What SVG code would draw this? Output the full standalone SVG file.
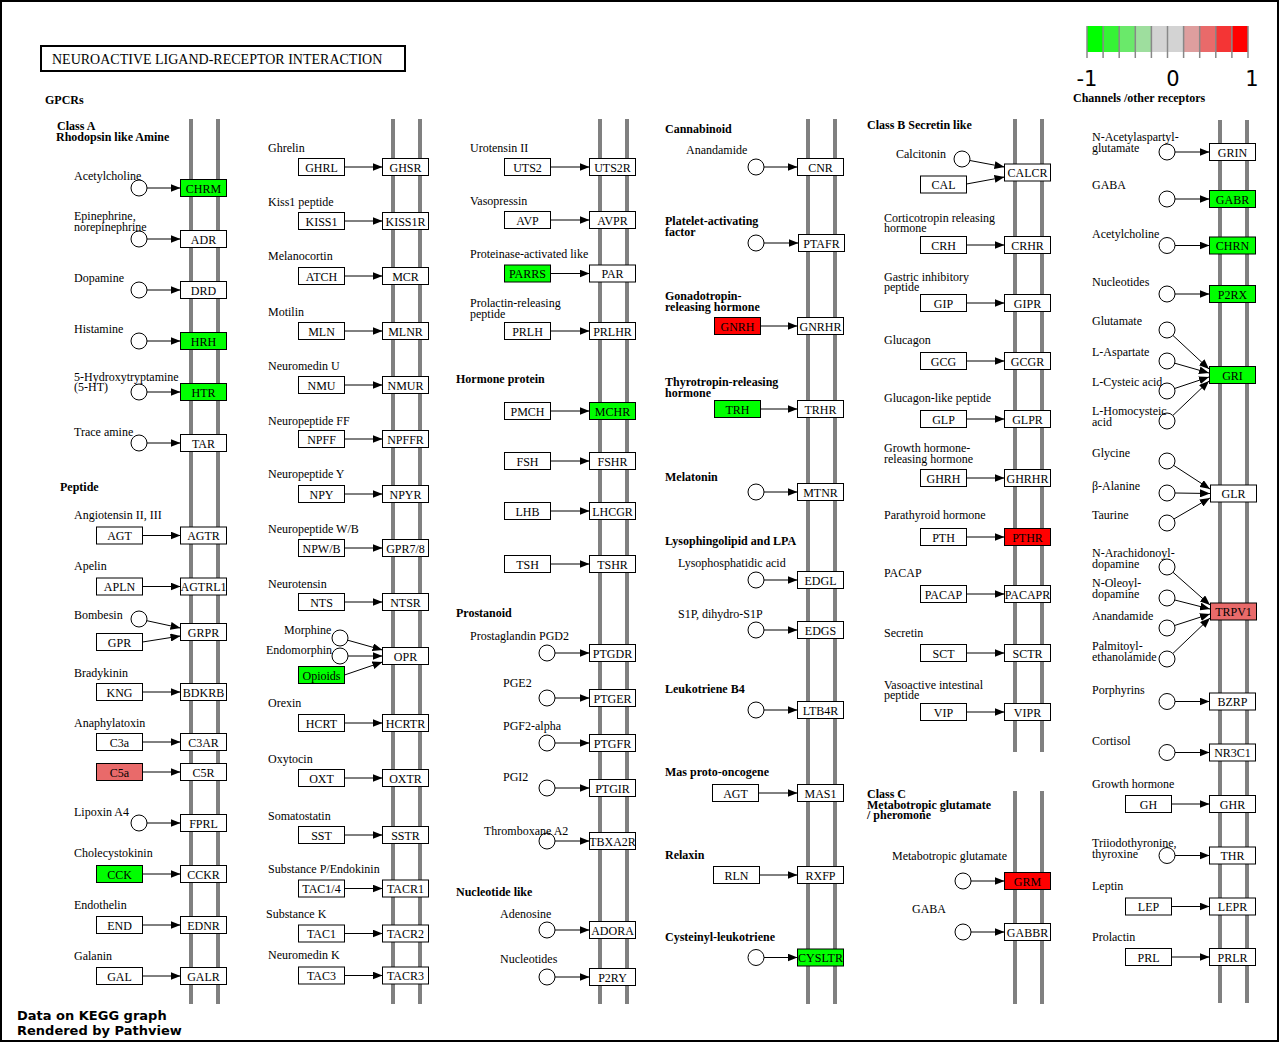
<svg xmlns="http://www.w3.org/2000/svg" width="1280" height="1043" viewBox="0 0 1280 1043">
<style>
.m{stroke:#808080;stroke-width:4}
.b{fill:#fff;stroke:#000;stroke-width:1}
.gr{fill:#00ff00}
.rd{fill:#ff0000}
.sa{fill:#e96a6a}
.c{fill:#fff;stroke:#000;stroke-width:1}
text{font-family:"Liberation Serif","Times New Roman",serif;font-size:12px;fill:#000}
.t{text-anchor:middle}
.h{font-weight:bold}
.e line{stroke:#000;stroke-width:1;fill:none;marker-end:url(#a)}
.f{font-family:"DejaVu Sans",sans-serif;font-weight:bold;font-size:13px}
.k{font-family:"DejaVu Sans",sans-serif;font-size:21px}
</style>
<defs>
<marker id="a" viewBox="0 0 10 8" markerWidth="10" markerHeight="8" refX="10" refY="4" orient="auto" markerUnits="userSpaceOnUse"><path d="M0,0 L10,4 L0,8 z" fill="#000"/></marker>
</defs>
<rect x="0" y="0" width="1280" height="1043" fill="#fff"/>
<rect x="1" y="1" width="1277" height="1040" fill="none" stroke="#000" stroke-width="2"/>
<g id="title"><rect x="41" y="46" width="364" height="25" fill="#fff" stroke="#000" stroke-width="2"/><text x="52" y="64" style="font-size:14px">NEUROACTIVE LIGAND-RECEPTOR INTERACTION</text></g>
<g id="legend">
<rect x="1087" y="26" width="16.1" height="26" fill="#00ff00"/>
<rect x="1103.1" y="26" width="16.1" height="26" fill="#35f435"/>
<rect x="1119.2" y="26" width="16.1" height="26" fill="#6ae96a"/>
<rect x="1135.3" y="26" width="16.1" height="26" fill="#9ede9e"/>
<rect x="1151.4" y="26" width="16.1" height="26" fill="#d3d3d3"/>
<rect x="1167.5" y="26" width="16.1" height="26" fill="#d3d3d3"/>
<rect x="1183.6" y="26" width="16.1" height="26" fill="#de9e9e"/>
<rect x="1199.7" y="26" width="16.1" height="26" fill="#e96a6a"/>
<rect x="1215.8" y="26" width="16.1" height="26" fill="#f43535"/>
<rect x="1231.9" y="26" width="16.1" height="26" fill="#ff0000"/>
<g stroke="#888" stroke-width="1.5">
<line x1="1087" y1="26" x2="1087" y2="58"/><line x1="1103.1" y1="26" x2="1103.1" y2="58"/><line x1="1119.2" y1="26" x2="1119.2" y2="58"/><line x1="1135.3" y1="26" x2="1135.3" y2="58"/><line x1="1151.4" y1="26" x2="1151.4" y2="58"/><line x1="1167.5" y1="26" x2="1167.5" y2="58"/><line x1="1183.6" y1="26" x2="1183.6" y2="58"/><line x1="1199.7" y1="26" x2="1199.7" y2="58"/><line x1="1215.8" y1="26" x2="1215.8" y2="58"/><line x1="1231.9" y1="26" x2="1231.9" y2="58"/><line x1="1248" y1="26" x2="1248" y2="58"/>
</g>
<text class="k t" x="1087" y="86">-1</text><text class="k t" x="1173" y="86">0</text><text class="k t" x="1252" y="86">1</text>
</g>
<g id="membranes">
<line class="m" x1="191" y1="119" x2="191" y2="1004"/><line class="m" x1="218" y1="119" x2="218" y2="1004"/>
<line class="m" x1="393" y1="119" x2="393" y2="1004"/><line class="m" x1="420" y1="119" x2="420" y2="1004"/>
<line class="m" x1="600" y1="119" x2="600" y2="1004"/><line class="m" x1="627" y1="119" x2="627" y2="1004"/>
<line class="m" x1="808" y1="119" x2="808" y2="1004"/><line class="m" x1="835" y1="119" x2="835" y2="1004"/>
<line class="m" x1="1015" y1="119" x2="1015" y2="752"/><line class="m" x1="1042" y1="119" x2="1042" y2="752"/>
<line class="m" x1="1015" y1="791" x2="1015" y2="1004"/><line class="m" x1="1042" y1="791" x2="1042" y2="1004"/>
<line class="m" x1="1220" y1="120" x2="1220" y2="1003"/><line class="m" x1="1247" y1="120" x2="1247" y2="1003"/>
</g>
<g id="headings">
<text class="h" x="45" y="104">GPCRs</text>
<text class="h" x="57" y="130">Class A<tspan x="56" dy="11">Rhodopsin like Amine</tspan></text>
<text class="h" x="60" y="491">Peptide</text>
<text class="h" x="456" y="383">Hormone protein</text>
<text class="h" x="456" y="617">Prostanoid</text>
<text class="h" x="456" y="896">Nucleotide like</text>
<text class="h" x="665" y="133">Cannabinoid</text>
<text class="h" x="665" y="225">Platelet-activating<tspan x="665" dy="11">factor</tspan></text>
<text class="h" x="665" y="300">Gonadotropin-<tspan x="665" dy="11">releasing hormone</tspan></text>
<text class="h" x="665" y="386">Thyrotropin-releasing<tspan x="665" dy="11">hormone</tspan></text>
<text class="h" x="665" y="481">Melatonin</text>
<text class="h" x="665" y="545">Lysophingolipid and LPA</text>
<text class="h" x="665" y="693">Leukotriene B4</text>
<text class="h" x="665" y="776">Mas proto-oncogene</text>
<text class="h" x="665" y="859">Relaxin</text>
<text class="h" x="665" y="941">Cysteinyl-leukotriene</text>
<text class="h" x="867" y="129">Class B Secretin like</text>
<text class="h" x="867" y="798">Class C<tspan x="867" dy="11">Metabotropic glutamate</tspan><tspan x="867" dy="10">/ pheromone</tspan></text>
<text class="h" x="1073" y="102">Channels /other receptors</text>
</g>
<g id="connectors" class="e">
<line x1="147" y1="188" x2="180.5" y2="188"/><line x1="147" y1="239" x2="180.5" y2="239"/><line x1="147" y1="290" x2="180.5" y2="290"/><line x1="147" y1="341" x2="180.5" y2="341"/><line x1="147" y1="392" x2="180.5" y2="392"/><line x1="147" y1="443" x2="180.5" y2="443"/>
<line x1="142.5" y1="535.5" x2="180.5" y2="535.5"/><line x1="142.5" y1="586.5" x2="180.5" y2="586.5"/>
<line x1="146.8" y1="620.7" x2="180.5" y2="628"/><line x1="142.5" y1="642" x2="180.5" y2="636"/>
<line x1="142.5" y1="692" x2="180.5" y2="692"/><line x1="142.5" y1="742" x2="180.5" y2="742"/><line x1="142.5" y1="772" x2="180.5" y2="772"/>
<line x1="147" y1="823" x2="180.5" y2="823"/><line x1="142.5" y1="874" x2="180.5" y2="874"/><line x1="142.5" y1="925" x2="180.5" y2="925"/><line x1="142.5" y1="976" x2="180.5" y2="976"/>
<line x1="344.5" y1="167" x2="382.5" y2="167"/><line x1="344.5" y1="221" x2="382.5" y2="221"/><line x1="344.5" y1="276" x2="382.5" y2="276"/><line x1="344.5" y1="331" x2="382.5" y2="331"/><line x1="344.5" y1="385" x2="382.5" y2="385"/><line x1="344.5" y1="439" x2="382.5" y2="439"/><line x1="344.5" y1="494" x2="382.5" y2="494"/><line x1="344.5" y1="548" x2="382.5" y2="548"/><line x1="344.5" y1="602" x2="382.5" y2="602"/>
<line x1="347.7" y1="640.2" x2="382.5" y2="650"/><line x1="348" y1="656" x2="382.5" y2="656"/><line x1="344.5" y1="675" x2="382.5" y2="662"/>
<line x1="344.5" y1="723" x2="382.5" y2="723"/><line x1="344.5" y1="778" x2="382.5" y2="778"/><line x1="344.5" y1="835" x2="382.5" y2="835"/><line x1="344.5" y1="888.5" x2="382.5" y2="888.5"/><line x1="344.5" y1="933.5" x2="382.5" y2="933.5"/><line x1="344.5" y1="975.5" x2="382.5" y2="975.5"/>
<line x1="550.5" y1="167" x2="589.5" y2="167"/><line x1="550.5" y1="220" x2="589.5" y2="220"/><line x1="550.5" y1="273.5" x2="589.5" y2="273.5"/><line x1="550.5" y1="331" x2="589.5" y2="331"/><line x1="550.5" y1="411" x2="589.5" y2="411"/><line x1="550.5" y1="461" x2="589.5" y2="461"/><line x1="550.5" y1="511" x2="589.5" y2="511"/><line x1="550.5" y1="564" x2="589.5" y2="564"/>
<line x1="555" y1="653" x2="589.5" y2="653"/><line x1="555" y1="698" x2="589.5" y2="698"/><line x1="555" y1="743" x2="589.5" y2="743"/><line x1="555" y1="788" x2="589.5" y2="788"/><line x1="555" y1="841" x2="589.5" y2="841"/><line x1="555" y1="930" x2="589.5" y2="930"/><line x1="555" y1="977" x2="589.5" y2="977"/>
<line x1="764" y1="167" x2="797.5" y2="167"/><line x1="764" y1="243" x2="798.5" y2="243"/><line x1="760.5" y1="326" x2="797.5" y2="326"/><line x1="760.5" y1="409" x2="797.5" y2="409"/><line x1="764" y1="492" x2="797.5" y2="492"/><line x1="764" y1="580" x2="797.5" y2="580"/><line x1="764" y1="630" x2="797.5" y2="630"/><line x1="764" y1="710" x2="797.5" y2="710"/><line x1="758.5" y1="793" x2="797.5" y2="793"/><line x1="759.5" y1="875" x2="797.5" y2="875"/><line x1="764" y1="957.5" x2="797.5" y2="957.5"/>
<line x1="969.9" y1="160.5" x2="1004.5" y2="167"/><line x1="966.5" y1="184" x2="1004.5" y2="177"/>
<line x1="966.5" y1="245" x2="1004.5" y2="245"/><line x1="966.5" y1="303" x2="1004.5" y2="303"/><line x1="966.5" y1="361" x2="1004.5" y2="361"/><line x1="966.5" y1="419" x2="1004.5" y2="419"/><line x1="966.5" y1="478" x2="1004.5" y2="478"/><line x1="966.5" y1="537" x2="1004.5" y2="537"/><line x1="966.5" y1="594" x2="1004.5" y2="594"/><line x1="966.5" y1="653" x2="1004.5" y2="653"/><line x1="966.5" y1="712" x2="1004.5" y2="712"/>
<line x1="971" y1="881" x2="1004.5" y2="881"/><line x1="971" y1="932" x2="1004.5" y2="932"/>
<line x1="1175" y1="152" x2="1209.5" y2="152"/><line x1="1175" y1="199" x2="1209.5" y2="199"/><line x1="1175" y1="245.5" x2="1209.5" y2="245.5"/><line x1="1175" y1="294" x2="1209.5" y2="294"/>
<line x1="1173" y1="335.5" x2="1209" y2="369"/><line x1="1174.7" y1="363.2" x2="1209" y2="373"/><line x1="1174.6" y1="388.5" x2="1209" y2="377"/><line x1="1172.8" y1="415.5" x2="1209" y2="381"/>
<line x1="1173.7" y1="465.4" x2="1210" y2="489"/><line x1="1175" y1="493" x2="1210" y2="493.5"/><line x1="1173.9" y1="519" x2="1210" y2="498"/>
<line x1="1173" y1="572.3" x2="1210" y2="605"/><line x1="1174.8" y1="600" x2="1210" y2="609"/><line x1="1174.6" y1="625.5" x2="1210" y2="614"/><line x1="1172.8" y1="653.5" x2="1210" y2="618"/>
<line x1="1175" y1="701.5" x2="1209.5" y2="701.5"/><line x1="1175" y1="752.5" x2="1209.5" y2="752.5"/><line x1="1171.5" y1="804" x2="1209.5" y2="804"/><line x1="1175" y1="855.5" x2="1209.5" y2="855.5"/><line x1="1171.5" y1="906.5" x2="1209.5" y2="906.5"/><line x1="1171.5" y1="957" x2="1209.5" y2="957"/>
</g>
<!-- Column 1 -->
<g id="acetylcholine-1"><circle class="c" cx="139" cy="188" r="8"/><text x="74" y="180">Acetylcholine</text></g>
<g id="CHRM"><rect class="b gr" x="180.5" y="179.5" width="46" height="17"/><text class="t" x="203.5" y="192.5">CHRM</text></g>
<g id="epinephrine"><circle class="c" cx="139" cy="239" r="8"/><text x="74" y="220">Epinephrine,<tspan x="74" dy="11">norepinephrine</tspan></text></g>
<g id="ADR"><rect class="b" x="180.5" y="230.5" width="46" height="17"/><text class="t" x="203.5" y="243.5">ADR</text></g>
<g id="dopamine"><circle class="c" cx="139" cy="290" r="8"/><text x="74" y="282">Dopamine</text></g>
<g id="DRD"><rect class="b" x="180.5" y="281.5" width="46" height="17"/><text class="t" x="203.5" y="294.5">DRD</text></g>
<g id="histamine"><circle class="c" cx="139" cy="341" r="8"/><text x="74" y="333">Histamine</text></g>
<g id="HRH"><rect class="b gr" x="180.5" y="332.5" width="46" height="17"/><text class="t" x="203.5" y="345.5">HRH</text></g>
<g id="serotonin"><circle class="c" cx="139" cy="392" r="8"/><text x="74" y="381">5-Hydroxytryptamine<tspan x="74" dy="10">(5-HT)</tspan></text></g>
<g id="HTR"><rect class="b gr" x="180.5" y="383.5" width="46" height="17"/><text class="t" x="203.5" y="396.5">HTR</text></g>
<g id="trace-amine"><circle class="c" cx="139" cy="443" r="8"/><text x="74" y="436">Trace amine</text></g>
<g id="TAR"><rect class="b" x="180.5" y="434.5" width="46" height="17"/><text class="t" x="203.5" y="447.5">TAR</text></g>
<g id="AGT-1"><text x="74" y="519">Angiotensin II, III</text><rect class="b" x="96.5" y="527" width="46" height="17"/><text class="t" x="119.5" y="540">AGT</text></g>
<g id="AGTR"><rect class="b" x="180.5" y="527" width="46" height="17"/><text class="t" x="203.5" y="540">AGTR</text></g>
<g id="APLN"><text x="74" y="570">Apelin</text><rect class="b" x="96.5" y="578" width="46" height="17"/><text class="t" x="119.5" y="591">APLN</text></g>
<g id="AGTRL1"><rect class="b" x="180.5" y="578" width="46" height="17"/><text class="t" x="203.5" y="591">AGTRL1</text></g>
<g id="bombesin"><circle class="c" cx="139" cy="619" r="8"/><text x="74" y="619">Bombesin</text></g>
<g id="GPR"><rect class="b" x="96.5" y="633.5" width="46" height="17"/><text class="t" x="119.5" y="646.5">GPR</text></g>
<g id="GRPR"><rect class="b" x="180.5" y="623.5" width="46" height="17"/><text class="t" x="203.5" y="636.5">GRPR</text></g>
<g id="KNG"><text x="74" y="677">Bradykinin</text><rect class="b" x="96.5" y="683.5" width="46" height="17"/><text class="t" x="119.5" y="696.5">KNG</text></g>
<g id="BDKRB"><rect class="b" x="180.5" y="683.5" width="46" height="17"/><text class="t" x="203.5" y="696.5">BDKRB</text></g>
<g id="C3a"><text x="74" y="727">Anaphylatoxin</text><rect class="b" x="96.5" y="733.5" width="46" height="17"/><text class="t" x="119.5" y="746.5">C3a</text></g>
<g id="C3AR"><rect class="b" x="180.5" y="733.5" width="46" height="17"/><text class="t" x="203.5" y="746.5">C3AR</text></g>
<g id="C5a"><rect class="b sa" x="96.5" y="763.5" width="46" height="17"/><text class="t" x="119.5" y="776.5">C5a</text></g>
<g id="C5R"><rect class="b" x="180.5" y="763.5" width="46" height="17"/><text class="t" x="203.5" y="776.5">C5R</text></g>
<g id="lipoxin"><circle class="c" cx="139" cy="823" r="8"/><text x="74" y="816">Lipoxin A4</text></g>
<g id="FPRL"><rect class="b" x="180.5" y="814.5" width="46" height="17"/><text class="t" x="203.5" y="827.5">FPRL</text></g>
<g id="CCK"><text x="74" y="857">Cholecystokinin</text><rect class="b gr" x="96.5" y="865.5" width="46" height="17"/><text class="t" x="119.5" y="878.5">CCK</text></g>
<g id="CCKR"><rect class="b" x="180.5" y="865.5" width="46" height="17"/><text class="t" x="203.5" y="878.5">CCKR</text></g>
<g id="END"><text x="74" y="909">Endothelin</text><rect class="b" x="96.5" y="916.5" width="46" height="17"/><text class="t" x="119.5" y="929.5">END</text></g>
<g id="EDNR"><rect class="b" x="180.5" y="916.5" width="46" height="17"/><text class="t" x="203.5" y="929.5">EDNR</text></g>
<g id="GAL"><text x="74" y="960">Galanin</text><rect class="b" x="96.5" y="967.5" width="46" height="17"/><text class="t" x="119.5" y="980.5">GAL</text></g>
<g id="GALR"><rect class="b" x="180.5" y="967.5" width="46" height="17"/><text class="t" x="203.5" y="980.5">GALR</text></g>
<!-- Column 2 -->
<g id="GHRL"><text x="268" y="152">Ghrelin</text><rect class="b" x="298.5" y="158.5" width="46" height="17"/><text class="t" x="321.5" y="171.5">GHRL</text></g>
<g id="GHSR"><rect class="b" x="382.5" y="158.5" width="46" height="17"/><text class="t" x="405.5" y="171.5">GHSR</text></g>
<g id="KISS1"><text x="268" y="206">Kiss1 peptide</text><rect class="b" x="298.5" y="212.5" width="46" height="17"/><text class="t" x="321.5" y="225.5">KISS1</text></g>
<g id="KISS1R"><rect class="b" x="382.5" y="212.5" width="46" height="17"/><text class="t" x="405.5" y="225.5">KISS1R</text></g>
<g id="ATCH"><text x="268" y="260">Melanocortin</text><rect class="b" x="298.5" y="267.5" width="46" height="17"/><text class="t" x="321.5" y="280.5">ATCH</text></g>
<g id="MCR"><rect class="b" x="382.5" y="267.5" width="46" height="17"/><text class="t" x="405.5" y="280.5">MCR</text></g>
<g id="MLN"><text x="268" y="316">Motilin</text><rect class="b" x="298.5" y="322.5" width="46" height="17"/><text class="t" x="321.5" y="335.5">MLN</text></g>
<g id="MLNR"><rect class="b" x="382.5" y="322.5" width="46" height="17"/><text class="t" x="405.5" y="335.5">MLNR</text></g>
<g id="NMU"><text x="268" y="370">Neuromedin U</text><rect class="b" x="298.5" y="376.5" width="46" height="17"/><text class="t" x="321.5" y="389.5">NMU</text></g>
<g id="NMUR"><rect class="b" x="382.5" y="376.5" width="46" height="17"/><text class="t" x="405.5" y="389.5">NMUR</text></g>
<g id="NPFF"><text x="268" y="425">Neuropeptide FF</text><rect class="b" x="298.5" y="430.5" width="46" height="17"/><text class="t" x="321.5" y="443.5">NPFF</text></g>
<g id="NPFFR"><rect class="b" x="382.5" y="430.5" width="46" height="17"/><text class="t" x="405.5" y="443.5">NPFFR</text></g>
<g id="NPY"><text x="268" y="478">Neuropeptide Y</text><rect class="b" x="298.5" y="485.5" width="46" height="17"/><text class="t" x="321.5" y="498.5">NPY</text></g>
<g id="NPYR"><rect class="b" x="382.5" y="485.5" width="46" height="17"/><text class="t" x="405.5" y="498.5">NPYR</text></g>
<g id="NPWB"><text x="268" y="533">Neuropeptide W/B</text><rect class="b" x="298.5" y="539.5" width="46" height="17"/><text class="t" x="321.5" y="552.5">NPW/B</text></g>
<g id="GPR7-8"><rect class="b" x="382.5" y="539.5" width="46" height="17"/><text class="t" x="405.5" y="552.5">GPR7/8</text></g>
<g id="NTS"><text x="268" y="588">Neurotensin</text><rect class="b" x="298.5" y="593.5" width="46" height="17"/><text class="t" x="321.5" y="606.5">NTS</text></g>
<g id="NTSR"><rect class="b" x="382.5" y="593.5" width="46" height="17"/><text class="t" x="405.5" y="606.5">NTSR</text></g>
<g id="morphine"><circle class="c" cx="340" cy="638" r="8"/><text x="284" y="634">Morphine</text></g>
<g id="endomorphin"><circle class="c" cx="340" cy="656" r="8"/><text x="266" y="654">Endomorphin</text></g>
<g id="opioids"><rect class="b gr" x="298.5" y="666.5" width="46" height="17"/><text class="t" x="321.5" y="679.5">Opioids</text></g>
<g id="OPR"><rect class="b" x="382.5" y="647.5" width="46" height="17"/><text class="t" x="405.5" y="660.5">OPR</text></g>
<g id="HCRT"><text x="268" y="707">Orexin</text><rect class="b" x="298.5" y="714.5" width="46" height="17"/><text class="t" x="321.5" y="727.5">HCRT</text></g>
<g id="HCRTR"><rect class="b" x="382.5" y="714.5" width="46" height="17"/><text class="t" x="405.5" y="727.5">HCRTR</text></g>
<g id="OXT"><text x="268" y="763">Oxytocin</text><rect class="b" x="298.5" y="769.5" width="46" height="17"/><text class="t" x="321.5" y="782.5">OXT</text></g>
<g id="OXTR"><rect class="b" x="382.5" y="769.5" width="46" height="17"/><text class="t" x="405.5" y="782.5">OXTR</text></g>
<g id="SST"><text x="268" y="820">Somatostatin</text><rect class="b" x="298.5" y="826.5" width="46" height="17"/><text class="t" x="321.5" y="839.5">SST</text></g>
<g id="SSTR"><rect class="b" x="382.5" y="826.5" width="46" height="17"/><text class="t" x="405.5" y="839.5">SSTR</text></g>
<g id="TAC1-4"><text x="268" y="873">Substance P/Endokinin</text><rect class="b" x="298.5" y="880" width="46" height="17"/><text class="t" x="321.5" y="893">TAC1/4</text></g>
<g id="TACR1"><rect class="b" x="382.5" y="880" width="46" height="17"/><text class="t" x="405.5" y="893">TACR1</text></g>
<g id="TAC1"><text x="266" y="918">Substance K</text><rect class="b" x="298.5" y="925" width="46" height="17"/><text class="t" x="321.5" y="938">TAC1</text></g>
<g id="TACR2"><rect class="b" x="382.5" y="925" width="46" height="17"/><text class="t" x="405.5" y="938">TACR2</text></g>
<g id="TAC3"><text x="268" y="959">Neuromedin K</text><rect class="b" x="298.5" y="967" width="46" height="17"/><text class="t" x="321.5" y="980">TAC3</text></g>
<g id="TACR3"><rect class="b" x="382.5" y="967" width="46" height="17"/><text class="t" x="405.5" y="980">TACR3</text></g>
<!-- Column 3 -->
<g id="UTS2"><text x="470" y="152">Urotensin II</text><rect class="b" x="504.5" y="158.5" width="46" height="17"/><text class="t" x="527.5" y="171.5">UTS2</text></g>
<g id="UTS2R"><rect class="b" x="589.5" y="158.5" width="46" height="17"/><text class="t" x="612.5" y="171.5">UTS2R</text></g>
<g id="AVP"><text x="470" y="205">Vasopressin</text><rect class="b" x="504.5" y="211.5" width="46" height="17"/><text class="t" x="527.5" y="224.5">AVP</text></g>
<g id="AVPR"><rect class="b" x="589.5" y="211.5" width="46" height="17"/><text class="t" x="612.5" y="224.5">AVPR</text></g>
<g id="PARRS"><text x="470" y="258">Proteinase-activated like</text><rect class="b gr" x="504.5" y="265" width="46" height="17"/><text class="t" x="527.5" y="278">PARRS</text></g>
<g id="PAR"><rect class="b" x="589.5" y="265" width="46" height="17"/><text class="t" x="612.5" y="278">PAR</text></g>
<g id="PRLH"><text x="470" y="307">Prolactin-releasing<tspan x="470" dy="11">peptide</tspan></text><rect class="b" x="504.5" y="322.5" width="46" height="17"/><text class="t" x="527.5" y="335.5">PRLH</text></g>
<g id="PRLHR"><rect class="b" x="589.5" y="322.5" width="46" height="17"/><text class="t" x="612.5" y="335.5">PRLHR</text></g>
<g id="PMCH"><rect class="b" x="504.5" y="402.5" width="46" height="17"/><text class="t" x="527.5" y="415.5">PMCH</text></g>
<g id="MCHR"><rect class="b gr" x="589.5" y="402.5" width="46" height="17"/><text class="t" x="612.5" y="415.5">MCHR</text></g>
<g id="FSH"><rect class="b" x="504.5" y="452.5" width="46" height="17"/><text class="t" x="527.5" y="465.5">FSH</text></g>
<g id="FSHR"><rect class="b" x="589.5" y="452.5" width="46" height="17"/><text class="t" x="612.5" y="465.5">FSHR</text></g>
<g id="LHB"><rect class="b" x="504.5" y="502.5" width="46" height="17"/><text class="t" x="527.5" y="515.5">LHB</text></g>
<g id="LHCGR"><rect class="b" x="589.5" y="502.5" width="46" height="17"/><text class="t" x="612.5" y="515.5">LHCGR</text></g>
<g id="TSH"><rect class="b" x="504.5" y="555.5" width="46" height="17"/><text class="t" x="527.5" y="568.5">TSH</text></g>
<g id="TSHR"><rect class="b" x="589.5" y="555.5" width="46" height="17"/><text class="t" x="612.5" y="568.5">TSHR</text></g>
<g id="PGD2"><circle class="c" cx="547" cy="653" r="8"/><text x="470" y="640">Prostaglandin PGD2</text></g>
<g id="PTGDR"><rect class="b" x="589.5" y="644.5" width="46" height="17"/><text class="t" x="612.5" y="657.5">PTGDR</text></g>
<g id="PGE2"><circle class="c" cx="547" cy="698" r="8"/><text x="503" y="687">PGE2</text></g>
<g id="PTGER"><rect class="b" x="589.5" y="689.5" width="46" height="17"/><text class="t" x="612.5" y="702.5">PTGER</text></g>
<g id="PGF2"><circle class="c" cx="547" cy="743" r="8"/><text x="503" y="730">PGF2-alpha</text></g>
<g id="PTGFR"><rect class="b" x="589.5" y="734.5" width="46" height="17"/><text class="t" x="612.5" y="747.5">PTGFR</text></g>
<g id="PGI2"><circle class="c" cx="547" cy="788" r="8"/><text x="503" y="781">PGI2</text></g>
<g id="PTGIR"><rect class="b" x="589.5" y="779.5" width="46" height="17"/><text class="t" x="612.5" y="792.5">PTGIR</text></g>
<g id="TXA2"><circle class="c" cx="547" cy="841" r="8"/><text x="484" y="835">Thromboxane A2</text></g>
<g id="TBXA2R"><rect class="b" x="589.5" y="832.5" width="46" height="17"/><text class="t" x="612.5" y="845.5">TBXA2R</text></g>
<g id="adenosine"><circle class="c" cx="547" cy="930" r="8"/><text x="500" y="918">Adenosine</text></g>
<g id="ADORA"><rect class="b" x="589.5" y="921.5" width="46" height="17"/><text class="t" x="612.5" y="934.5">ADORA</text></g>
<g id="nucleotides-1"><circle class="c" cx="547" cy="977" r="8"/><text x="500" y="963">Nucleotides</text></g>
<g id="P2RY"><rect class="b" x="589.5" y="968.5" width="46" height="17"/><text class="t" x="612.5" y="981.5">P2RY</text></g>
<!-- Column 4 -->
<g id="anandamide-1"><circle class="c" cx="756" cy="167" r="8"/><text x="686" y="154">Anandamide</text></g>
<g id="CNR"><rect class="b" x="797.5" y="158.5" width="46" height="17"/><text class="t" x="820.5" y="171.5">CNR</text></g>
<g id="PAF"><circle class="c" cx="756" cy="243" r="8"/></g>
<g id="PTAFR"><rect class="b" x="798.5" y="234.5" width="46" height="17"/><text class="t" x="821.5" y="247.5">PTAFR</text></g>
<g id="GNRH"><rect class="b rd" x="714.5" y="317.5" width="46" height="17"/><text class="t" x="737.5" y="330.5">GNRH</text></g>
<g id="GNRHR"><rect class="b" x="797.5" y="317.5" width="46" height="17"/><text class="t" x="820.5" y="330.5">GNRHR</text></g>
<g id="TRH"><rect class="b gr" x="714.5" y="400.5" width="46" height="17"/><text class="t" x="737.5" y="413.5">TRH</text></g>
<g id="TRHR"><rect class="b" x="797.5" y="400.5" width="46" height="17"/><text class="t" x="820.5" y="413.5">TRHR</text></g>
<g id="melatonin"><circle class="c" cx="756" cy="492" r="8"/></g>
<g id="MTNR"><rect class="b" x="797.5" y="483.5" width="46" height="17"/><text class="t" x="820.5" y="496.5">MTNR</text></g>
<g id="LPA"><circle class="c" cx="756" cy="580" r="8"/><text x="678" y="567">Lysophosphatidic acid</text></g>
<g id="EDGL"><rect class="b" x="797.5" y="571.5" width="46" height="17"/><text class="t" x="820.5" y="584.5">EDGL</text></g>
<g id="S1P"><circle class="c" cx="756" cy="630" r="8"/><text x="678" y="618">S1P, dihydro-S1P</text></g>
<g id="EDGS"><rect class="b" x="797.5" y="621.5" width="46" height="17"/><text class="t" x="820.5" y="634.5">EDGS</text></g>
<g id="LTB4"><circle class="c" cx="756" cy="710" r="8"/></g>
<g id="LTB4R"><rect class="b" x="797.5" y="701.5" width="46" height="17"/><text class="t" x="820.5" y="714.5">LTB4R</text></g>
<g id="AGT-2"><rect class="b" x="712.5" y="784.5" width="46" height="17"/><text class="t" x="735.5" y="797.5">AGT</text></g>
<g id="MAS1"><rect class="b" x="797.5" y="784.5" width="46" height="17"/><text class="t" x="820.5" y="797.5">MAS1</text></g>
<g id="RLN"><rect class="b" x="713.5" y="866.5" width="46" height="17"/><text class="t" x="736.5" y="879.5">RLN</text></g>
<g id="RXFP"><rect class="b" x="797.5" y="866.5" width="46" height="17"/><text class="t" x="820.5" y="879.5">RXFP</text></g>
<g id="CysLT"><circle class="c" cx="756" cy="957.5" r="8"/></g>
<g id="CYSLTR"><rect class="b gr" x="797.5" y="949" width="46" height="17"/><text class="t" x="820.5" y="962">CYSLTR</text></g>
<!-- Column 5 -->
<g id="calcitonin"><circle class="c" cx="962" cy="159" r="8"/><text x="896" y="158">Calcitonin</text></g>
<g id="CAL"><rect class="b" x="920.5" y="176" width="46" height="17"/><text class="t" x="943.5" y="189">CAL</text></g>
<g id="CALCR"><rect class="b" x="1004.5" y="164" width="46" height="17"/><text class="t" x="1027.5" y="177">CALCR</text></g>
<g id="CRH"><text x="884" y="222">Corticotropin releasing<tspan x="884" dy="10">hormone</tspan></text><rect class="b" x="920.5" y="236.5" width="46" height="17"/><text class="t" x="943.5" y="249.5">CRH</text></g>
<g id="CRHR"><rect class="b" x="1004.5" y="236.5" width="46" height="17"/><text class="t" x="1027.5" y="249.5">CRHR</text></g>
<g id="GIP"><text x="884" y="281">Gastric inhibitory<tspan x="884" dy="10">peptide</tspan></text><rect class="b" x="920.5" y="294.5" width="46" height="17"/><text class="t" x="943.5" y="307.5">GIP</text></g>
<g id="GIPR"><rect class="b" x="1004.5" y="294.5" width="46" height="17"/><text class="t" x="1027.5" y="307.5">GIPR</text></g>
<g id="GCG"><text x="884" y="344">Glucagon</text><rect class="b" x="920.5" y="352.5" width="46" height="17"/><text class="t" x="943.5" y="365.5">GCG</text></g>
<g id="GCGR"><rect class="b" x="1004.5" y="352.5" width="46" height="17"/><text class="t" x="1027.5" y="365.5">GCGR</text></g>
<g id="GLP"><text x="884" y="402">Glucagon-like peptide</text><rect class="b" x="920.5" y="410.5" width="46" height="17"/><text class="t" x="943.5" y="423.5">GLP</text></g>
<g id="GLPR"><rect class="b" x="1004.5" y="410.5" width="46" height="17"/><text class="t" x="1027.5" y="423.5">GLPR</text></g>
<g id="GHRH"><text x="884" y="452">Growth hormone-<tspan x="884" dy="11">releasing hormone</tspan></text><rect class="b" x="920.5" y="469.5" width="46" height="17"/><text class="t" x="943.5" y="482.5">GHRH</text></g>
<g id="GHRHR"><rect class="b" x="1004.5" y="469.5" width="46" height="17"/><text class="t" x="1027.5" y="482.5">GHRHR</text></g>
<g id="PTH"><text x="884" y="519">Parathyroid hormone</text><rect class="b" x="920.5" y="528.5" width="46" height="17"/><text class="t" x="943.5" y="541.5">PTH</text></g>
<g id="PTHR"><rect class="b rd" x="1004.5" y="528.5" width="46" height="17"/><text class="t" x="1027.5" y="541.5">PTHR</text></g>
<g id="PACAP"><text x="884" y="577">PACAP</text><rect class="b" x="920.5" y="585.5" width="46" height="17"/><text class="t" x="943.5" y="598.5">PACAP</text></g>
<g id="PACAPR"><rect class="b" x="1004.5" y="585.5" width="46" height="17"/><text class="t" x="1027.5" y="598.5">PACAPR</text></g>
<g id="SCT"><text x="884" y="637">Secretin</text><rect class="b" x="920.5" y="644.5" width="46" height="17"/><text class="t" x="943.5" y="657.5">SCT</text></g>
<g id="SCTR"><rect class="b" x="1004.5" y="644.5" width="46" height="17"/><text class="t" x="1027.5" y="657.5">SCTR</text></g>
<g id="VIP"><text x="884" y="689">Vasoactive intestinal<tspan x="884" dy="10">peptide</tspan></text><rect class="b" x="920.5" y="703.5" width="46" height="17"/><text class="t" x="943.5" y="716.5">VIP</text></g>
<g id="VIPR"><rect class="b" x="1004.5" y="703.5" width="46" height="17"/><text class="t" x="1027.5" y="716.5">VIPR</text></g>
<g id="glutamate-mg"><circle class="c" cx="963" cy="881" r="8"/><text x="892" y="860">Metabotropic glutamate</text></g>
<g id="GRM"><rect class="b rd" x="1004.5" y="872.5" width="46" height="17"/><text class="t" x="1027.5" y="885.5">GRM</text></g>
<g id="GABA-1"><circle class="c" cx="963" cy="932" r="8"/><text x="912" y="913">GABA</text></g>
<g id="GABBR"><rect class="b" x="1004.5" y="923.5" width="46" height="17"/><text class="t" x="1027.5" y="936.5">GABBR</text></g>
<!-- Column 6 -->
<g id="NAAG"><circle class="c" cx="1167" cy="152" r="8"/><text x="1092" y="141">N-Acetylaspartyl-<tspan x="1092" dy="11">glutamate</tspan></text></g>
<g id="GRIN"><rect class="b" x="1209.5" y="143.5" width="46" height="17"/><text class="t" x="1232.5" y="156.5">GRIN</text></g>
<g id="GABA-2"><circle class="c" cx="1167" cy="199" r="8"/><text x="1092" y="189">GABA</text></g>
<g id="GABR"><rect class="b gr" x="1209.5" y="190.5" width="46" height="17"/><text class="t" x="1232.5" y="203.5">GABR</text></g>
<g id="acetylcholine-2"><circle class="c" cx="1167" cy="245.5" r="8"/><text x="1092" y="238">Acetylcholine</text></g>
<g id="CHRN"><rect class="b gr" x="1209.5" y="237" width="46" height="17"/><text class="t" x="1232.5" y="250">CHRN</text></g>
<g id="nucleotides-2"><circle class="c" cx="1167" cy="294" r="8"/><text x="1092" y="286">Nucleotides</text></g>
<g id="P2RX"><rect class="b gr" x="1209.5" y="285.5" width="46" height="17"/><text class="t" x="1232.5" y="298.5">P2RX</text></g>
<g id="glutamate"><circle class="c" cx="1167" cy="330" r="8"/><text x="1092" y="325">Glutamate</text></g>
<g id="aspartate"><circle class="c" cx="1167" cy="361" r="8"/><text x="1092" y="356">L-Aspartate</text></g>
<g id="cysteic"><circle class="c" cx="1167" cy="391" r="8"/><text x="1092" y="386">L-Cysteic acid</text></g>
<g id="homocysteic"><circle class="c" cx="1167" cy="421" r="8"/><text x="1092" y="415">L-Homocysteic<tspan x="1092" dy="11">acid</tspan></text></g>
<g id="GRI"><rect class="b gr" x="1209.5" y="366.5" width="46" height="17"/><text class="t" x="1232.5" y="379.5">GRI</text></g>
<g id="glycine"><circle class="c" cx="1167" cy="461" r="8"/><text x="1092" y="457">Glycine</text></g>
<g id="alanine"><circle class="c" cx="1167" cy="493" r="8"/><text x="1092" y="490">β-Alanine</text></g>
<g id="taurine"><circle class="c" cx="1167" cy="523" r="8"/><text x="1092" y="519">Taurine</text></g>
<g id="GLR"><rect class="b" x="1210.5" y="485" width="46" height="17"/><text class="t" x="1233.5" y="498">GLR</text></g>
<g id="NADA"><circle class="c" cx="1167" cy="567" r="8"/><text x="1092" y="557">N-Arachidonoyl-<tspan x="1092" dy="11">dopamine</tspan></text></g>
<g id="OLDA"><circle class="c" cx="1167" cy="598" r="8"/><text x="1092" y="587">N-Oleoyl-<tspan x="1092" dy="11">dopamine</tspan></text></g>
<g id="anandamide-2"><circle class="c" cx="1167" cy="628" r="8"/><text x="1092" y="620">Anandamide</text></g>
<g id="PEA"><circle class="c" cx="1167" cy="659" r="8"/><text x="1092" y="650">Palmitoyl-<tspan x="1092" dy="11">ethanolamide</tspan></text></g>
<g id="TRPV1"><rect class="b sa" x="1210.5" y="603" width="46" height="17"/><text class="t" x="1233.5" y="616">TRPV1</text></g>
<g id="porphyrins"><circle class="c" cx="1167" cy="701.5" r="8"/><text x="1092" y="694">Porphyrins</text></g>
<g id="BZRP"><rect class="b" x="1209.5" y="693" width="46" height="17"/><text class="t" x="1232.5" y="706">BZRP</text></g>
<g id="cortisol"><circle class="c" cx="1167" cy="752.5" r="8"/><text x="1092" y="745">Cortisol</text></g>
<g id="NR3C1"><rect class="b" x="1209.5" y="744" width="46" height="17"/><text class="t" x="1232.5" y="757">NR3C1</text></g>
<g id="GH"><text x="1092" y="788">Growth hormone</text><rect class="b" x="1125.5" y="795.5" width="46" height="17"/><text class="t" x="1148.5" y="808.5">GH</text></g>
<g id="GHR"><rect class="b" x="1209.5" y="795.5" width="46" height="17"/><text class="t" x="1232.5" y="808.5">GHR</text></g>
<g id="thyroxine"><circle class="c" cx="1167" cy="855.5" r="8"/><text x="1092" y="847">Triiodothyronine,<tspan x="1092" dy="11">thyroxine</tspan></text></g>
<g id="THR"><rect class="b" x="1209.5" y="847" width="46" height="17"/><text class="t" x="1232.5" y="860">THR</text></g>
<g id="LEP"><text x="1092" y="890">Leptin</text><rect class="b" x="1125.5" y="898" width="46" height="17"/><text class="t" x="1148.5" y="911">LEP</text></g>
<g id="LEPR"><rect class="b" x="1209.5" y="898" width="46" height="17"/><text class="t" x="1232.5" y="911">LEPR</text></g>
<g id="PRL"><text x="1092" y="941">Prolactin</text><rect class="b" x="1125.5" y="948.5" width="46" height="17"/><text class="t" x="1148.5" y="961.5">PRL</text></g>
<g id="PRLR"><rect class="b" x="1209.5" y="948.5" width="46" height="17"/><text class="t" x="1232.5" y="961.5">PRLR</text></g>
<g id="footer"><text class="f" x="17" y="1020">Data on KEGG graph</text><text class="f" x="17" y="1035">Rendered by Pathview</text></g>
</svg>
